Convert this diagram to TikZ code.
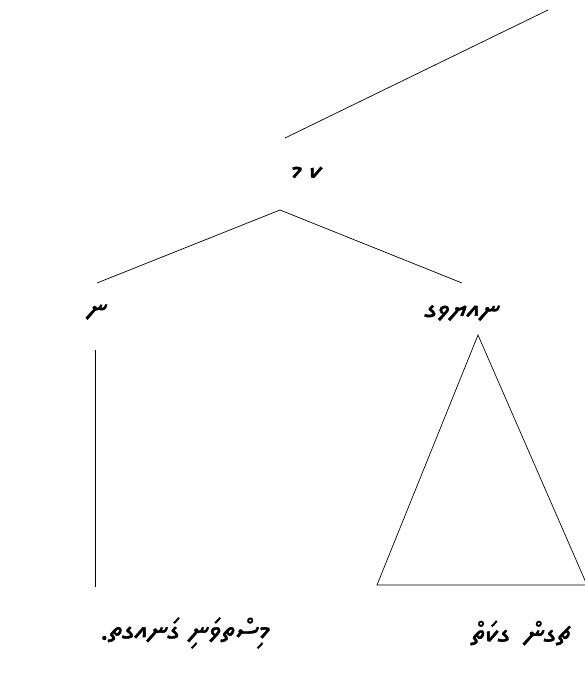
\documentclass[tikz,border=0pt]{standalone}
\usepackage{fontspec}
\newfontfamily\thaana[Script=Thaana,FakeBold=1.2]{Noto Sans Thaana}
\tikzset{
  lab/.style={font=\thaana\fontsize{30}{34}\selectfont, inner sep=0pt},
  edge/.style={line width=0.7pt, black}
}
\newcommand\gl[1]{\hbox{#1}}
\begin{document}
\begin{tikzpicture}[x=1pt,y=-1pt]
\useasboundingbox (0,0) rectangle (585,677);
% labels (glyph boxes set left to right as they stand on the page)
\node[lab] (top) at (306,173) {\gl{މ}\kern7pt\gl{ކ}};
\node[lab] (np) at (97,312) {\gl{ނ}};
\node[lab] (vp) at (462,313) {\gl{ގ}\gl{ވ}\gl{ޔ}\gl{އ}\gl{ނ}};
\node[lab] (wl) at (185,633) {.\gl{ތ}\gl{ގ}\gl{އ}\gl{ނ}\gl{ގަ}\hspace{9pt}\gl{ނި}\gl{ވަ}\gl{ތ}\gl{ސް}\gl{މި}};
\node[lab] (wr) at (521,633) {\gl{ތް}\gl{ކަ}\gl{ގ}\hspace{14pt}\gl{ން}\gl{ގ}\gl{ޗ}};
% attach points
\coordinate (free) at (548,10);
\path (top.center) ++(-21,-35) coordinate (topN);
\path (top.center) ++(-26,37) coordinate (topS);
\path (np.center) ++(0,-29) coordinate (npN);
\path (np.center) ++(-2,38) coordinate (npS);
\path (vp.center) ++(0,-30) coordinate (vpN);
\path (vp.center) ++(16,22) coordinate (apex);
\path (wl.center) ++(-90,-46) coordinate (wlN);
\path (wr.center) ++(-144,-48) coordinate (triL);
\path (wr.center) ++(66,-48) coordinate (triR);
% edges
\draw[edge] (free) -- (topN);
\draw[edge] (topS) -- (npN);
\draw[edge] (topS) -- (vpN);
\draw[edge] (npS) -- (wlN);
\draw[edge, line join=miter] (apex) -- (triL) -- (triR) -- cycle;
\end{tikzpicture}
\end{document}
